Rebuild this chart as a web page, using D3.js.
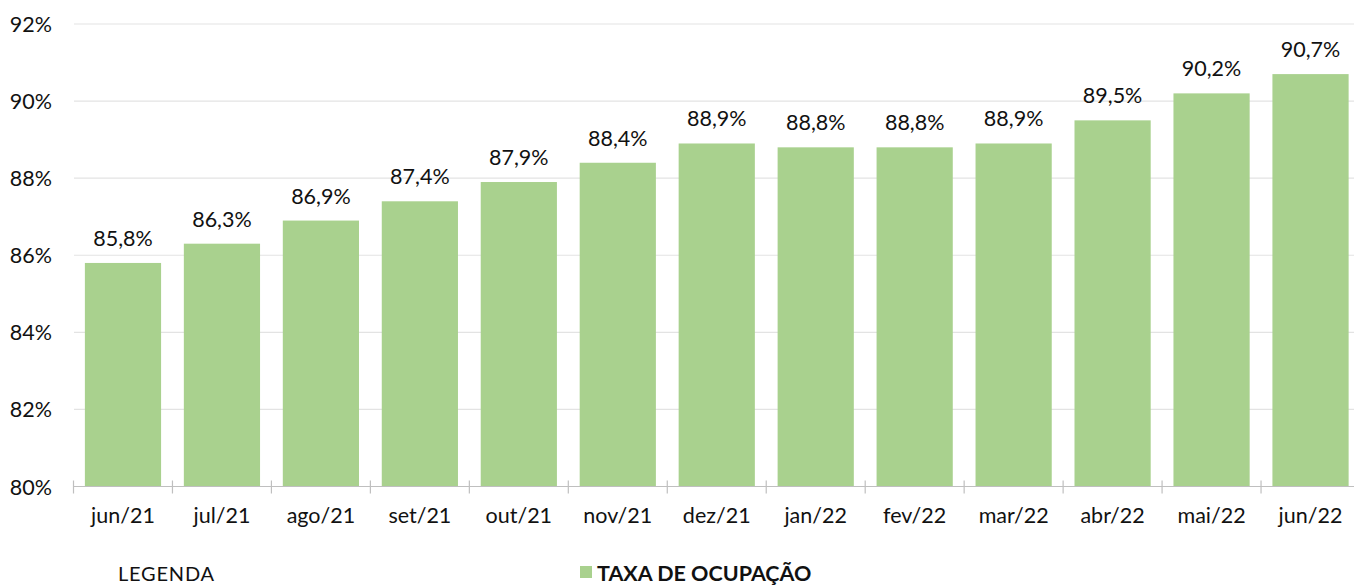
<!DOCTYPE html>
<html>
<head>
<meta charset="utf-8">
<script src="https://cdn.jsdelivr.net/npm/d3@7"></script>
<style>
  body { margin: 0; background: #fff; }
  text { font-family: Lato, "Noto Sans", sans-serif; fill: #111; }
</style>
</head>
<body>
<div id="chart"></div>
<script>
// data
var months = ["jun/21", "jul/21", "ago/21", "set/21", "out/21", "nov/21", "dez/21",
              "jan/22", "fev/22", "mar/22", "abr/22", "mai/22", "jun/22"];
var ocupacao = [85.8, 86.3, 86.9, 87.4, 87.9, 88.4, 88.9, 88.8, 88.8, 88.9, 89.5, 90.2, 90.7];
var yTicks = [80, 82, 84, 86, 88, 90, 92];
var legendLabel = "TAXA DE OCUPAÇÃO";

var width = 1354, height = 587;
var fontSize = "21.5px";
var fmt = function(v) { return v.toFixed(1).replace(".", ",") + "%"; };

var svg = d3.select("#chart").append("svg")
            .attr("width", width)
            .attr("height", height);

var x = d3.scaleBand().domain(months).range([73.5, 1360])
          .paddingInner(0.23).paddingOuter(0.115);
var y = d3.scaleLinear().domain([80, 92]).range([486.5, 24]);

// gridlines
svg.append("g")
   .selectAll("line")
   .data(yTicks.slice(1))
   .enter().append("line")
   .attr("x1", 74).attr("x2", width)
   .attr("y1", function(d) { return y(d); })
   .attr("y2", function(d) { return y(d); })
   .attr("stroke", "#e3e3e3")
   .attr("stroke-width", 1.2);

// y labels
svg.append("g")
   .selectAll("text")
   .data(yTicks)
   .enter().append("text")
   .attr("x", 52)
   .attr("y", function(d) { return y(d) + 8; })
   .attr("text-anchor", "end")
   .style("font-size", fontSize)
   .text(function(d) { return d + "%"; });

// bars
svg.append("g")
   .selectAll("rect")
   .data(ocupacao)
   .enter().append("rect")
   .attr("x", function(d, i) { return x(months[i]); })
   .attr("y", function(d) { return y(d); })
   .attr("width", x.bandwidth())
   .attr("height", function(d) { return y(80) - y(d); })
   .attr("fill", "#a9d18e");

// value labels
svg.append("g")
   .selectAll("text")
   .data(ocupacao)
   .enter().append("text")
   .attr("x", function(d, i) { return x(months[i]) + x.bandwidth() / 2; })
   .attr("y", function(d) { return y(d) - 17; })
   .attr("text-anchor", "middle")
   .style("font-size", fontSize)
   .text(fmt);

// x axis
var xAxis = svg.append("g")
   .attr("transform", "translate(0," + y(80) + ")");
xAxis.append("line")
   .attr("x1", 73.5).attr("x2", width)
   .attr("stroke", "#bfbfbf").attr("stroke-width", 1.2);
var step = x.step();
xAxis.selectAll("line.tick")
   .data(d3.range(months.length + 1))
   .enter().append("line")
   .attr("class", "tick")
   .attr("x1", function(i) { return 73.5 + i * step; })
   .attr("x2", function(i) { return 73.5 + i * step; })
   .attr("y1", -6).attr("y2", 7)
   .attr("stroke", "#bfbfbf").attr("stroke-width", 1.2);
xAxis.selectAll("text")
   .data(months)
   .enter().append("text")
   .attr("x", function(d) { return x(d) + x.bandwidth() / 2; })
   .attr("y", 36.5)
   .attr("text-anchor", "middle")
   .style("font-size", fontSize)
   .text(function(d) { return d; });

// legend
svg.append("text")
   .attr("x", 118).attr("y", 581)
   .style("font-size", "20px")
   .style("letter-spacing", "0.8px")
   .text("LEGENDA");
svg.append("rect")
   .attr("x", 580).attr("y", 566)
   .attr("width", 12).attr("height", 12)
   .attr("fill", "#a9d18e");
svg.append("text")
   .attr("x", 597).attr("y", 581)
   .style("font-size", fontSize)
   .style("font-weight", "bold")
   .text(legendLabel);
</script>
</body>
</html>
